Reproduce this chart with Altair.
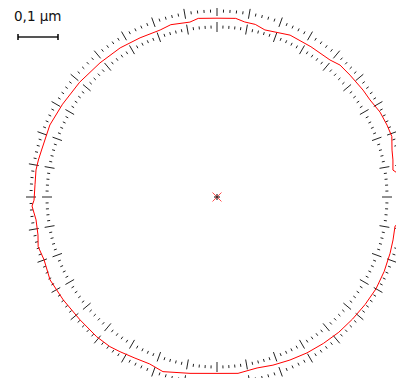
import altair as alt
import pandas as pd
import numpy as np

# ---- data (angle in degrees, radial deviation in nm) ----
angle_deg = [0, 6.9, 8.7, 11.9, 15, 19.1, 22.9, 27.5, 32.4, 36.2,
             42.5, 47, 50.5, 58, 65.7, 74, 77.5, 81, 84, 90,
             96, 98.8, 105, 108.8, 115.8, 123, 131.1, 140.1, 149, 156.7,
             165, 168.3, 171.5, 176, 181, 182.8, 187.2, 192, 195.5, 200,
             206.4, 213.8, 221.9, 229.3, 234.4, 237.9, 243, 248, 252.8, 261.3,
             270, 276.8, 283.2, 288.4, 294.1, 300, 306, 312, 318, 324,
             330, 336, 342, 346.3, 350.7, 352.2]
deviation_nm = [12.5, 15.5, 0, 4.5, 8, 17.5, 16.5, 14.5, 8, 7.5,
                6, 6, -1, -2, -1, -10.5, -3, -2, 4, 2,
                4, -2.5, 1, -4, -3, -0.5, 0, 2.5, 5.5, 10,
                9, 11, 12.5, 11, 12.5, 18, 11, 12.5, 19, 15,
                21, 17.5, 15, 16, 15, 11.5, 7, 5, 12, 1,
                -4, -1, -6, -2, 1.5, 5, 7.5, 10, 11, 12.5,
                14, 12.5, 10, 8, 6, 17]
assert len(angle_deg) == len(deviation_nm)

ring_nm = [-20, 20]          # inner / outer tick rings
scale_bar_nm = 100           # 0,1 µm
scale_label = "0,1 µm"

# ---- display settings ----
PX_PER_NM = 0.4
R_REF = 178
CX, CY = 217, 197
W, H = 388, 370
xs = alt.Scale(domain=[8 - CX, 8 + W - CX], nice=False, zero=False)
ys = alt.Scale(domain=[CY - 8 - H, CY - 8], nice=False, zero=False)

prof = pd.DataFrame({"angle": angle_deg + [360], "dev": deviation_nm + [deviation_nm[0]]})

tick_angles = np.arange(0, 360, 2)
ticks = pd.DataFrame([{"angle": int(a), "ring": r, "len": 10 if a % 10 == 0 else 3}
                      for r in ring_nm for a in tick_angles])

profile = alt.Chart(prof).transform_calculate(
    r=f"{R_REF} + datum.dev * {PX_PER_NM}"
).transform_calculate(
    x="datum.r * cos(datum.angle * PI / 180)",
    y="datum.r * sin(datum.angle * PI / 180)",
).mark_line(color="#ff0000", strokeWidth=1, interpolate="linear", clip=False).encode(
    x=alt.X("x:Q", scale=xs, axis=None),
    y=alt.Y("y:Q", scale=ys, axis=None),
    order="angle:Q",
)

tick_layer = alt.Chart(ticks).transform_calculate(
    rc=f"{R_REF} + datum.ring * {PX_PER_NM}"
).transform_calculate(
    r1="datum.rc - datum.len / 2",
    r2="datum.rc + datum.len / 2",
).transform_calculate(
    x="datum.r1 * cos(datum.angle * PI / 180)",
    y="datum.r1 * sin(datum.angle * PI / 180)",
    x2="datum.r2 * cos(datum.angle * PI / 180)",
    y2="datum.r2 * sin(datum.angle * PI / 180)",
).mark_rule(color="#222222", strokeWidth=1, clip=False).encode(
    x=alt.X("x:Q", scale=xs, axis=None),
    y=alt.Y("y:Q", scale=ys, axis=None),
    x2="x2:Q",
    y2="y2:Q",
)

center = pd.DataFrame({"x": [0], "y": [0]})
center_x = alt.Chart(center).mark_point(
    shape="M-1,-1L1,1M1,-1L-1,1", size=80, color="#ff0000", filled=False, strokeWidth=1
).encode(x=alt.X("x:Q", scale=xs, axis=None), y=alt.Y("y:Q", scale=ys, axis=None))
center_plus = alt.Chart(center).mark_point(
    shape="M0,-1L0,1M-1,0L1,0", size=36, color="#111111", filled=False, strokeWidth=1.5
).encode(x=alt.X("x:Q", scale=xs, axis=None), y=alt.Y("y:Q", scale=ys, axis=None))

# scale bar
bar = pd.DataFrame({"x": [18 - CX], "y": [CY - 37], "len": [scale_bar_nm]})
bar_line = alt.Chart(bar).transform_calculate(
    x2=f"datum.x + datum.len * {PX_PER_NM}"
).mark_rule(color="#555555", strokeWidth=2).encode(
    x=alt.X("x:Q", scale=xs, axis=None), x2="x2:Q",
    y=alt.Y("y:Q", scale=ys, axis=None),
)
bar_caps = alt.Chart(bar).transform_calculate(
    x2=f"datum.x + datum.len * {PX_PER_NM}"
).transform_fold(["x", "x2"], as_=["end", "xe"]).transform_calculate(
    ya="datum.y - 3", yb="datum.y + 3"
).mark_rule(color="#000000", strokeWidth=1.5).encode(
    x=alt.X("xe:Q", scale=xs, axis=None),
    y=alt.Y("ya:Q", scale=ys, axis=None), y2="yb:Q",
)
label = alt.Chart(pd.DataFrame({"x": [14 - CX], "y": [CY - 21], "t": [scale_label]})).mark_text(
    align="left", baseline="alphabetic", font="DejaVu Sans", fontSize=13.5, color="#111111"
).encode(x=alt.X("x:Q", scale=xs, axis=None), y=alt.Y("y:Q", scale=ys, axis=None), text="t:N")

chart = alt.layer(tick_layer, profile, center_x, center_plus, bar_line, bar_caps, label).properties(
    width=W, height=H, autosize=alt.AutoSizeParams(type="none"), padding=0
).configure_view(stroke=None)

chart.save("out.html", embed_options={"renderer": "svg", "actions": False})
